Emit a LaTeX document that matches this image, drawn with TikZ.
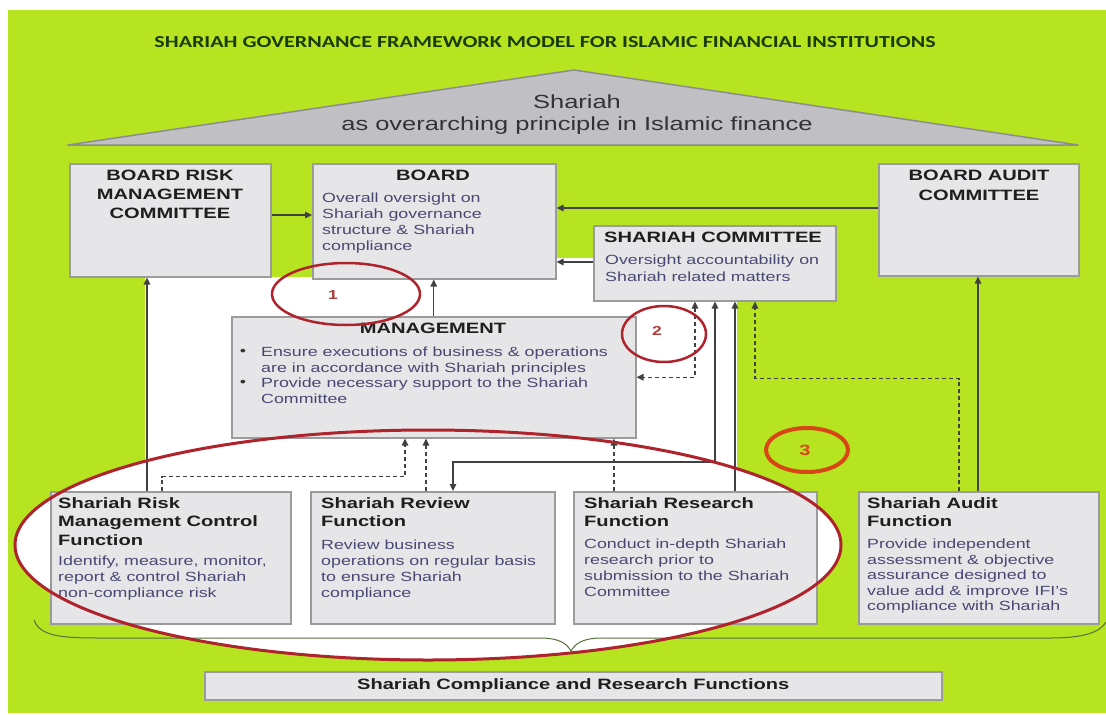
\documentclass[tikz,border=0pt]{standalone}
\usepackage{graphicx}
\usepackage{fontspec}
\setmainfont{Liberation Sans}[FakeStretch=1.34]
\newfontfamily\titlefont{Carlito}
\usetikzlibrary{arrows.meta,calc}

\definecolor{bggreen}{RGB}{182,228,32}
\definecolor{boxfill}{RGB}{230,230,232}
\definecolor{boxline}{RGB}{155,155,158}
\definecolor{bodytext}{RGB}{72,72,115}
\definecolor{headtext}{RGB}{30,30,30}
\definecolor{titlegreen}{RGB}{25,60,10}
\definecolor{roofgray}{RGB}{192,192,196}
\definecolor{roofline}{RGB}{140,140,145}
\definecolor{ovalred}{RGB}{175,35,45}
\definecolor{ovalorange}{RGB}{215,70,20}
\definecolor{numred}{RGB}{170,60,60}
\definecolor{linkgray}{RGB}{65,65,65}
\definecolor{bracegreen}{RGB}{85,110,60}

\tikzset{
  box/.style={draw=boxline, fill=boxfill, line width=1.5pt, rectangle, inner sep=0pt, anchor=north west},
  hd/.style={font=\fontsize{15}{18.5}\selectfont\bfseries, text=headtext, inner sep=0pt, align=left, anchor=north west},
  hdc/.style={hd, align=center, anchor=north},
  bd/.style={font=\fontsize{13.3}{16}\selectfont, text=bodytext, inner sep=0pt, align=left, anchor=north west},
  link/.style={draw=linkgray, line width=1.2pt},
  dlink/.style={link, dash pattern=on 4pt off 3pt},
  oval/.style={draw=ovalred, line width=2.5pt},
  num/.style={font=\fontsize{13}{13}\selectfont\bfseries, text=numred, inner sep=0pt}
}

\begin{document}
\begin{tikzpicture}[x=1pt, y=-1pt, >={Triangle[length=7pt,width=6.5pt]}]
\useasboundingbox (0,0) rectangle (1106,715);
\fill[white] (0,0) rectangle (1106,715);
\fill[bggreen] (8,10) rectangle (1106,713);

% heading
\node[inner sep=0pt, text=titlegreen] (title) at (545,42)
  {\resizebox{781pt}{11pt}{\titlefont\bfseries SHARIAH GOVERNANCE FRAMEWORK MODEL FOR ISLAMIC FINANCIAL INSTITUTIONS}};

% roof
\filldraw[fill=roofgray, draw=roofline, line width=1.5pt, line join=round]
  (68,145) -- (574,70) -- (1078,145) -- cycle;
\node[font=\fontsize{19}{22}\selectfont, text=black!80, align=center, inner sep=0pt, anchor=north] (roofText) at (577,95)
  {Shariah\\as overarching principle in Islamic finance};

% white panels behind the central part
\fill[white] (145,277) rectangle (737,492);
\fill[white] (555,258) rectangle (593,300);
\fill[white] (428,545) ellipse [x radius=413pt, y radius=115pt];

% brace under the functions
\draw[bracegreen, line width=1pt]
  (34,620) .. controls (40,636) and (60,638) .. (100,638) -- (540,638)
  .. controls (560,638) and (567,644) .. (571,651)
  .. controls (575,644) and (582,638) .. (602,638) -- (1050,638)
  .. controls (1085,638) and (1100,632) .. (1106,622);

% boxes
\node[box, minimum width=201pt, minimum height=113pt] (brmc) at (69,163) {};
\node[box, minimum width=243pt, minimum height=115pt] (board) at (312,163) {};
\node[box, minimum width=200pt, minimum height=112pt] (bac) at (878,163) {};
\node[box, minimum width=242pt, minimum height=75pt] (sc) at (593,225) {};
\node[box, minimum width=404pt, minimum height=121pt] (mgmt) at (231,316) {};
\node[box, minimum width=240pt, minimum height=132pt] (srmc) at (50,491) {};
\node[box, minimum width=244pt, minimum height=132pt] (review) at (310,491) {};
\node[box, minimum width=243pt, minimum height=132pt] (research) at (573,491) {};
\node[box, minimum width=240pt, minimum height=132pt] (audit) at (858,491) {};
\node[box, minimum width=737pt, minimum height=28pt] (scrf) at (204,671) {};

% box texts
\node[hdc, font=\fontsize{15}{19}\selectfont\bfseries] (brmcT) at (170,170) {BOARD RISK\\MANAGEMENT\\COMMITTEE};
\node[hdc] (boardT) at (433,170) {BOARD};
\node[bd] (boardB) at (322,193) {Overall oversight on\\Shariah governance\\structure \& Shariah\\compliance};
\node[hdc, font=\fontsize{15}{20}\selectfont\bfseries] (bacT) at (979,170) {BOARD AUDIT\\COMMITTEE};
\node[hdc] (scT) at (713,232) {SHARIAH COMMITTEE};
\node[bd, font=\fontsize{13.3}{17}\selectfont] (scB) at (605,255) {Oversight accountability on\\Shariah related matters};
\node[hdc] (mgmtT) at (433,323) {MANAGEMENT};
\node[bd, font=\fontsize{13.3}{15.5}\selectfont] (mgmtB) at (261,347)
  {Ensure executions of business \& operations\\are in accordance with Shariah principles\\Provide necessary support to the Shariah\\Committee};
\node[bd, text=black!80, anchor=center] (bulletA) at (243,352) {\textbullet};
\node[bd, text=black!80, anchor=center] (bulletB) at (243,383) {\textbullet};

\node[hd] (srmcT) at (58,497) {Shariah Risk\\Management Control\\Function};
\node[bd] (srmcB) at (58,556) {Identify, measure, monitor,\\report \& control Shariah\\non-compliance risk};
\node[hd] (reviewT) at (321,497) {Shariah Review\\Function};
\node[bd] (reviewB) at (321,540) {Review business\\operations on regular basis\\to ensure Shariah\\compliance};
\node[hd] (researchT) at (584,497) {Shariah Research\\Function};
\node[bd] (researchB) at (584,539) {Conduct in-depth Shariah\\research prior to\\submission to the Shariah\\Committee};
\node[hd] (auditT) at (867,497) {Shariah Audit\\Function};
\node[bd, font=\fontsize{13.3}{15.5}\selectfont] (auditB) at (867,539)
  {Provide independent\\assessment \& objective\\assurance designed to\\value add \& improve IFI's\\compliance with Shariah};
\node[hd, anchor=center] (scrfT) at (scrf.center) {Shariah Compliance and Research Functions};

% reporting lines to the board
\coordinate (brmcOut) at ($(brmc.north east)+(0,52)$);
\draw[link,->] (brmcOut) -- (brmcOut -| board.west);
\coordinate (bacOut) at ($(bac.north west)+(0,45)$);
\draw[link,->] (bacOut) -- (bacOut -| board.east);
\coordinate (scOut) at ($(sc.north west)+(0,37)$);
\draw[link,->] (scOut) -- (scOut -| board.east);
\draw[link,->] (mgmt.north) -- (mgmt.north |- board.south);

% lines from the functions
\coordinate (srmcUp) at ($(srmc.north west)+(97,0)$);
\draw[link,->] (srmcUp) -- (srmcUp |- brmc.south);
\coordinate (srmcDash) at ($(srmc.north west)+(112,0)$);
\coordinate (mgmtInA) at ($(mgmt.south west)+(174,0)$);
\draw[dlink,->] (srmcDash) |- ($(mgmtInA)+(0,38)$) -- (mgmtInA);
\coordinate (reviewUp) at ($(review.north west)+(116,0)$);
\draw[dlink,->] (reviewUp) -- (reviewUp |- mgmt.south);
\coordinate (scDown) at ($(sc.south west)+(122,0)$);
\coordinate (reviewIn) at ($(review.north west)+(143,0)$);
\draw[link,<->] (scDown) |- ($(reviewIn)+(0,-29)$) -- (reviewIn);
\coordinate (researchUp) at ($(research.north west)+(162,0)$);
\draw[link,->] (researchUp) -- (researchUp |- sc.south);
\coordinate (researchDash) at ($(research.north west)+(41,0)$);
\draw[dlink,->] (researchDash) -- (researchDash |- mgmt.south);
\coordinate (scMgmt) at ($(sc.south west)+(102,0)$);
\draw[dlink,<->] (scMgmt) |- (mgmt.east);
\coordinate (auditDash) at ($(audit.north west)+(101,0)$);
\coordinate (scInD) at ($(sc.south west)+(162,0)$);
\draw[dlink,->] (auditDash) |- ($(scInD)+(0,77)$) -- (scInD);
\coordinate (auditUp) at ($(audit.north west)+(120,0)$);
\draw[link,->] (auditUp) -- (auditUp |- bac.south);

% highlight rings
\draw[oval, line width=3pt] (428,545) ellipse [x radius=413pt, y radius=115pt];
\draw[oval] (346,294) ellipse [x radius=74pt, y radius=31pt];
\draw[oval] (664,334) ellipse [x radius=42pt, y radius=28pt];
\draw[draw=ovalorange, line width=4pt] (807,450) ellipse [x radius=41pt, y radius=22pt];
\node[num] (n1) at (333,295) {1};
\node[num] (n2) at (657,331) {2};
\node[num, font=\fontsize{15}{15}\selectfont\bfseries, text=ovalorange] (n3) at (805,450) {3};
\end{tikzpicture}
\end{document}
